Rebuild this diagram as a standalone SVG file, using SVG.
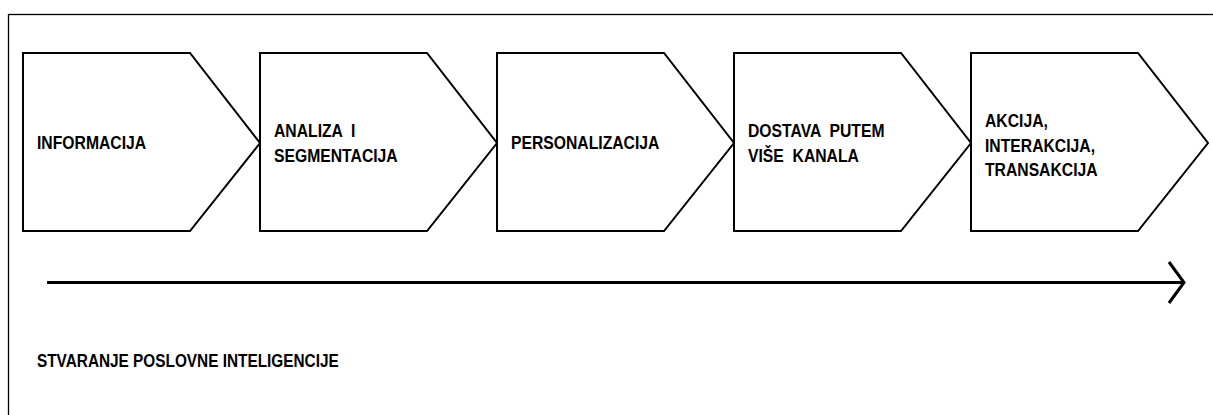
<svg xmlns="http://www.w3.org/2000/svg" width="1213" height="415" viewBox="0 0 1213 415">
<style>
.frame{fill:none;stroke:#000;stroke-width:1.3}
.chev{fill:#fff;stroke:#000;stroke-width:2}
.lbl{font-family:"Liberation Sans",Arial,sans-serif;font-weight:bold;font-size:18.5px;fill:#000;white-space:pre}
.axis{fill:none;stroke:#000;stroke-width:3}
</style>
<rect width="1213" height="415" fill="#fff"/>
<rect class="frame" x="8.5" y="14.5" width="1220" height="420"/>
<g id="n1"><polygon class="chev" points="23,53 190,53 260,143 190,231 23,231"/><text class="lbl" transform="translate(37,149) scale(0.85,1)">INFORMACIJA</text></g>
<g id="n2"><polygon class="chev" points="260,53 427,53 497,143 427,231 260,231"/><text class="lbl" transform="translate(274,136.5) scale(0.85,1)">ANALIZA  I</text><text class="lbl" transform="translate(274,161.5) scale(0.85,1)">SEGMENTACIJA</text></g>
<g id="n3"><polygon class="chev" points="497,53 664,53 734,143 664,231 497,231"/><text class="lbl" transform="translate(511,149) scale(0.85,1)">PERSONALIZACIJA</text></g>
<g id="n4"><polygon class="chev" points="734,53 901,53 971,143 901,231 734,231"/><text class="lbl" transform="translate(748,136.5) scale(0.85,1)">DOSTAVA  PUTEM</text><text class="lbl" transform="translate(748,161.5) scale(0.85,1)">VIŠE  KANALA</text></g>
<g id="n5"><polygon class="chev" points="971,53 1138,53 1208,143 1138,231 971,231"/><text class="lbl" transform="translate(985,127) scale(0.85,1)">AKCIJA,</text><text class="lbl" transform="translate(985,151.5) scale(0.85,1)">INTERAKCIJA,</text><text class="lbl" transform="translate(985,175.5) scale(0.85,1)">TRANSAKCIJA</text></g>
<g id="connectors"><line class="axis" x1="47" y1="282.5" x2="1184" y2="282.5"/><polyline class="axis" points="1169,262 1184,282.5 1169,303"/></g>
<text class="lbl" transform="translate(37,367) scale(0.83,1)">STVARANJE POSLOVNE INTELIGENCIJE</text>
</svg>
